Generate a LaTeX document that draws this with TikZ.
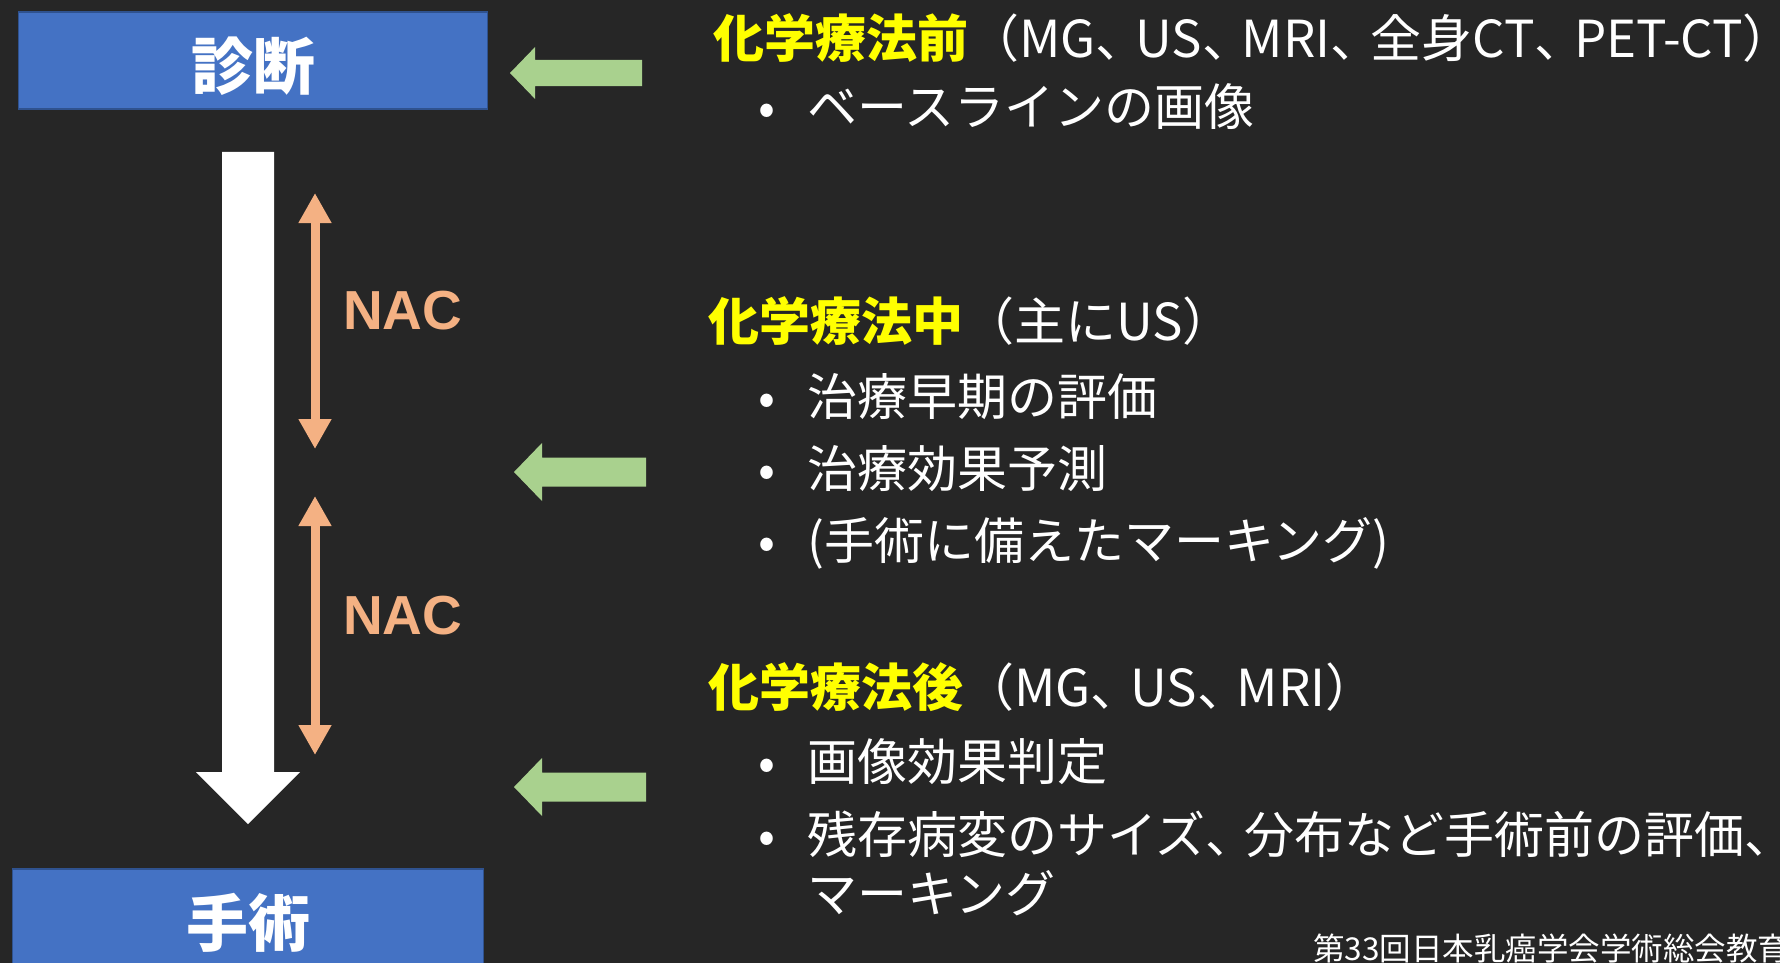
\documentclass[tikz,border=0pt]{standalone}
\usepackage{fontspec}
\setmainfont{Noto Sans CJK JP}
\newfontfamily\nacfont{Liberation Sans}
\usetikzlibrary{arrows.meta, positioning}
\definecolor{slidebg}{RGB}{38, 38, 38}
\definecolor{boxblue}{RGB}{68, 114, 196}
\definecolor{boxedge}{RGB}{47, 82, 143}
\definecolor{nacorange}{RGB}{244, 177, 131}
\definecolor{pointgreen}{RGB}{169, 209, 142}
\definecolor{headyellow}{RGB}{255, 255, 0}
\newcommand{\bulitem}{\makebox[0pt][c]{•}\hspace{40pt}}
\newcommand{\touten}{\makebox[0.78em][l]{、}}
\tikzset{
	stagebox/.style={rectangle, draw=boxedge, fill=boxblue, line width=1.5pt, minimum width=469pt, minimum height=97pt, inner sep=0pt},
	stagetext/.style={text=white, font=\fontsize{62}{70}\selectfont\bfseries, inner sep=0pt},
	nacarrow/.style={{Triangle[width=31pt, length=30pt]}-{Triangle[width=31pt, length=30pt]}, line width=9pt, draw=nacorange},
	naclabel/.style={text=nacorange, font=\nacfont\fontsize{55}{60}\selectfont\bfseries, inner sep=0pt},
	heading/.style={text=white, font=\fontsize{51}{60}\selectfont, inner sep=0pt, anchor=base west},
	itemline/.style={text=white, font=\fontsize{50}{60}\selectfont, inner sep=0pt, anchor=base west},
	footnote/.style={text=white, font=\fontsize{31.5}{34}\selectfont, inner sep=0pt, anchor=base west},
	pointer/.style={fill=pointgreen},
	timeline/.style={fill=white},
}

\begin{document}
\begin{tikzpicture}[x=1pt, y=-1pt]
	\fill[slidebg] (0,0) rectangle (1780,963);
	\useasboundingbox (0,0) rectangle (1780,963);
	% stages
	\node[stagebox] (diag) at (253,60.5) {};
	\node[stagebox, minimum width=471pt] (surg) at (248,917.5) {};
	\node[stagetext] (diagtext) at ([yshift=-6pt]diag.center) {診断};
	\node[stagetext] (surgtext) at ([yshift=-5pt]surg.center) {手術};
	% time flow
	\fill[timeline] (222,152) -- (274,152) -- (274,772) -- (300,772) -- (248,824) -- (196,772) -- (222,772) -- cycle;
	% NAC periods
	\coordinate (nac1top) at (315,193);
	\coordinate (nac1bot) at (315,449);
	\coordinate (nac2top) at (315,496);
	\coordinate (nac2bot) at (315,755);
	\draw[nacarrow] (nac1top) -- (nac1bot) coordinate[midway] (nac1mid);
	\draw[nacarrow] (nac2top) -- (nac2bot) coordinate[midway] (nac2mid);
	\node[naclabel, right=28pt of nac1mid, yshift=10pt] (nac1) {NAC};
	\node[naclabel, right=28pt of nac2mid, yshift=10pt] (nac2) {NAC};
	% green pointers
	\foreach \tx/\ty/\s in {510/73/0.9, 514/472/1, 514/787/1}{
		\fill[pointer] (\tx,\ty) -- (\tx+28*\s,\ty-29*\s) -- (\tx+28*\s,\ty-14.5*\s) -- (\tx+132,\ty-14.5*\s)
			-- (\tx+132,\ty+14.5*\s) -- (\tx+28*\s,\ty+14.5*\s) -- (\tx+28*\s,\ty+29*\s) -- cycle;
	}
	% before
	\node[heading] (pre) at (713,58) {\textcolor{headyellow}{\bfseries 化学療法前}（MG\touten US\touten MRI\touten 全身CT\touten PET-CT）};
	\node[itemline] (pre1) at (767,126) {\bulitem ベースラインの画像};
	% during
	\node[heading] (mid) at (708,340) {\textcolor{headyellow}{\bfseries 化学療法中}（主にUS）};
	\foreach \y/\txt [count=\k] in {415/治療早期の評価, 487/治療効果予測, 559/{(手術に備えたマーキング)}}
		\node[itemline] (mid\k) at (767,\y) {\bulitem\txt};
	% after
	\node[heading] (post) at (708,706) {\textcolor{headyellow}{\bfseries 化学療法後}（MG\touten US\touten MRI）};
	\node[itemline] (post1) at (767,780) {\bulitem 画像効果判定};
	\node[itemline] (post2) at (767,853) {\bulitem 残存病変のサイズ\touten 分布など手術前の評価\touten};
	\node[itemline] (post2b) at (807,912) {マーキング};
	\node[footnote] (credit) at (1313,960) {第33回日本乳癌学会学術総会教育};
\end{tikzpicture}
\end{document}
